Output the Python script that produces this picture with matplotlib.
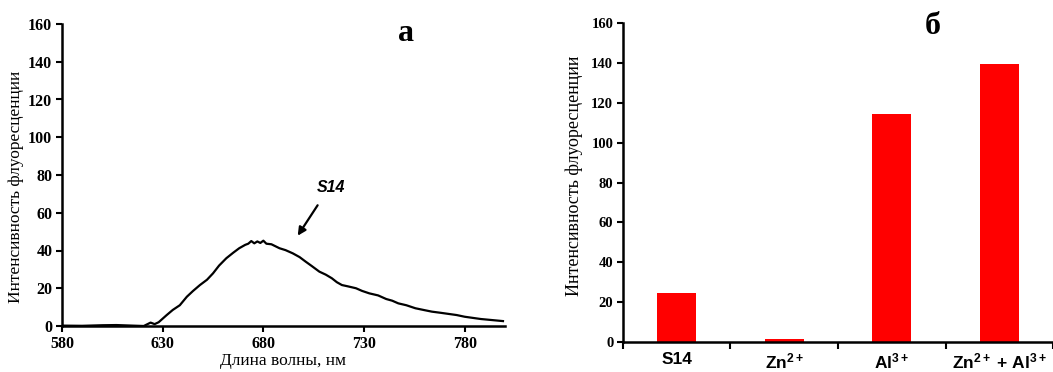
import numpy as np
import matplotlib.pyplot as plt
from matplotlib.ticker import FixedLocator

plt.rcParams['font.family'] = 'Liberation Serif'
plt.rcParams['mathtext.fontset'] = 'custom'
plt.rcParams['mathtext.rm'] = 'Liberation Sans:bold'
plt.rcParams['mathtext.it'] = 'Liberation Sans:bold'
plt.rcParams['mathtext.bf'] = 'Liberation Sans:bold'

# (а) спектр флуоресценции S14
wl = [580, 590, 600, 607, 615, 620.6, 624, 626, 628, 632, 635, 638.5, 642, 645, 648.5,
      652, 655, 658, 661.6, 665, 668, 671, 672.5, 674, 675.5, 677, 678.5, 680, 681.5,
      684, 688, 691, 694.6, 698, 701, 704, 707.8, 711, 714, 716.5, 719, 722, 726,
      729, 732.6, 737, 741, 744, 747, 751, 755.5, 760, 763.7, 768, 772, 776, 780,
      784, 788, 793, 799]
inten = [0.2, 0.1, 0.4, 0.5, 0.2, 0.0, 1.8, 1.0, 2.0, 5.8, 8.5, 11.0, 15.5, 18.5, 21.7,
         24.5, 27.9, 32.0, 35.9, 38.8, 41.2, 43.0, 43.6, 45.0, 43.8, 44.8, 44.0, 45.2, 43.6,
         43.3, 41.2, 40.2, 38.5, 36.5, 34.1, 31.8, 28.8, 27.2, 25.3, 23.2, 21.7, 21.0, 20.0,
         18.6, 17.3, 16.2, 14.3, 13.4, 12.0, 11.0, 9.4, 8.4, 7.6, 7.0, 6.4, 5.8, 4.9,
         4.3, 3.7, 3.2, 2.6]

# (б) интенсивность по образцам
samples = ['S14', 'Zn$^{2+}$', 'Al$^{3+}$', 'Zn$^{2+}$ + Al$^{3+}$']
values = [24.5, 1.5, 114.5, 139.5]

fig = plt.figure(figsize=(10.53, 3.72), dpi=100)
W, H = 1053, 372
ax1 = fig.add_axes([62 / W, 1 - 326 / H, (505 - 62) / W, (326 - 24) / H])
ax2 = fig.add_axes([623 / W, 1 - 342 / H, (1053 - 623) / W, (342 - 23) / H])

ax1.plot(wl, inten, color='black', lw=1.6)
ax1.set_xlim(580, 800)
ax1.set_ylim(0, 160)
ax1.xaxis.set_ticks([580, 630, 680, 730, 780])
ax1.yaxis.set_ticks(np.arange(0, 161, 20))
ax1.set_xlabel('Длина волны, нм', fontsize=12.5, labelpad=1)
ax1.set_ylabel('Интенсивность флуоресценции', fontsize=12.5)
ax1.yaxis.set_label_coords(-0.085, 0.46)
ax1.annotate('', xy=(696.3, 46.6), xytext=(707.7, 65.2),
             arrowprops=dict(arrowstyle='-|>', color='black', lw=1.6, mutation_scale=12))
ax1.text(713.7, 73.6, 'S14', family='Liberation Sans', fontsize=11.5,
         fontweight='bold', style='italic', ha='center', va='center')
ax1.text(750.8, 155, 'а', fontsize=23, fontweight='bold', ha='center', va='center')

ax2.bar(range(len(samples)), values, width=0.36, color='#ff0000')
ax2.set_xlim(-0.5, 3.5)
ax2.set_ylim(0, 160)
ax2.yaxis.set_ticks(np.arange(0, 161, 20))
ax2.xaxis.set_major_locator(FixedLocator(range(4)))
ax2.xaxis.set_minor_locator(FixedLocator([-0.5, 0.5, 1.5, 2.5, 3.5]))
ax2.set_xticklabels(samples, fontsize=12.5, family='Liberation Sans', fontweight='bold')
ax2.tick_params(axis='x', which='major', length=0, pad=7)
ax2.tick_params(axis='x', which='minor', length=5, width=1.5, direction='out')
ax2.set_ylabel('Интенсивность флуоресценции', fontsize=13)
ax2.yaxis.set_label_coords(-0.093, 0.52)
ax2.text(0.72, 0.99, 'б', transform=ax2.transAxes, fontsize=23, fontweight='bold',
         ha='center', va='center', clip_on=False)

for ax in (ax1, ax2):
    for s in ('top', 'right'):
        ax.spines[s].set_visible(False)
    for s in ('left', 'bottom'):
        ax.spines[s].set_linewidth(1.8)
    ax.tick_params(axis='y', length=4, width=1.5, direction='out', pad=3)
    for lab in ax.get_yticklabels():
        lab.set_fontweight('bold')
ax1.tick_params(axis='x', length=4, width=1.5, direction='out', pad=3)
ax1.tick_params(labelsize=11.5)
ax2.tick_params(axis='y', labelsize=10.5)
for lab in ax1.get_xticklabels():
    lab.set_fontweight('bold')

fig.savefig('out.png', dpi=100)
